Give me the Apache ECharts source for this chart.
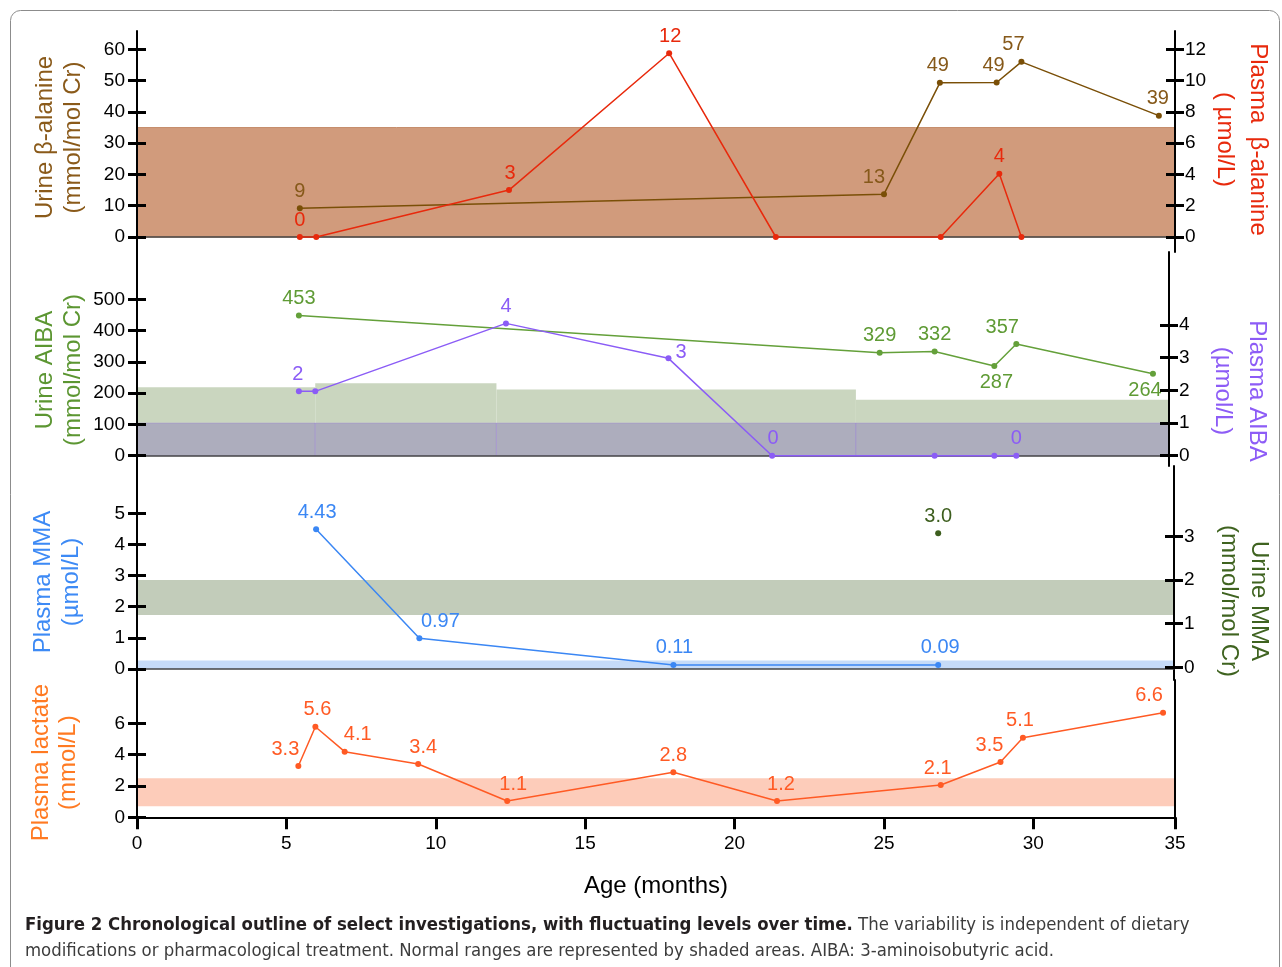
<!DOCTYPE html>
<html lang="en">
<head>
<meta charset="UTF-8">
<title>Chronological outline of select investigations</title>
<style>
  html, body { margin: 0; padding: 0; background: #fff; }
  #chart { width: 1282px; height: 967px; }
</style>
</head>
<body>
<div id="chart"></div>
<script src="https://cdn.jsdelivr.net/npm/echarts@6/dist/echarts.min.js"></script>
<script>
// ---- data (age in months) ----
// values are where the points sit; the *Text arrays are the numbers printed beside them
var ageUrineBAla = [5.45, 25.0, 26.87, 28.77, 29.6, 34.2];
var urineBAla = [9.2, 13.7, 49.3, 49.4, 56, 38.8];
var urineBAlaText = ['9', '13', '49', '49', '57', '39'];
var agePlasmaBAla = [5.45, 6.0, 12.45, 17.81, 21.38, 26.9, 28.86, 29.6];
var plasmaBAla = [0, 0, 3, 11.75, 0, 0, 4.05, 0];
var plasmaBAlaText = ['0', '0', '3', '12', '0', '0', '4', '0'];

var ageUrineAIBA = [5.45, 25.0, 26.85, 28.86, 29.6, 34.2];
var urineAIBA = [448, 329, 333, 287, 357, 262];
var urineAIBAText = ['453', '329', '332', '287', '357', '264'];
var agePlasmaAIBA = [5.45, 6.0, 12.42, 17.89, 21.38, 26.85, 28.86, 29.6];
var plasmaAIBA = [1.97, 1.97, 4.05, 2.98, 0, 0, 0, 0];
var plasmaAIBAText = ['2', '2', '4', '3', '0', '0', '0', '0'];

var agePlasmaMMA = [6.0, 9.46, 17.97, 26.84];
var plasmaMMA = [4.49, 0.99, 0.13, 0.13];
var plasmaMMAText = ['4.43', '0.97', '0.11', '0.09'];
var ageUrineMMA = [26.84];
var urineMMA = [3.07];
var urineMMAText = ['3.0'];

var ageLactate = [5.40, 5.97, 6.95, 9.41, 12.39, 17.95, 21.42, 26.9, 28.9, 29.65, 34.34];
var lactate = [3.27, 5.78, 4.19, 3.40, 1.04, 2.87, 1.04, 2.06, 3.53, 5.08, 6.67];
var lactateText = ['3.3', '5.6', '4.1', '3.4', '1.1', '2.8', '1.2', '2.1', '3.5', '5.1', '6.6'];

// normal ranges (shaded areas)
var rangeUrineBAla = [0, 35];
var rangeUrineAIBAFrom = [0, 6.0, 12.1, 24.2];
var rangeUrineAIBATo = [6.0, 12.1, 24.2, 35];
var rangeUrineAIBATop = [219, 232, 212, 179];
var rangePlasmaAIBA = [0, 1];
var rangeUrineMMA = [1.2, 2.0];
var rangePlasmaMMA = [0, 0.27];
var rangeLactate = [0.7, 2.5];

// tick labels
var ageTicks = [0, 5, 10, 15, 20, 25, 30, 35];
var ticksUrineBAla = [0, 10, 20, 30, 40, 50, 60];
var ticksPlasmaBAla = [0, 2, 4, 6, 8, 10, 12];
var ticksUrineAIBA = [0, 100, 200, 300, 400, 500];
var ticksPlasmaAIBA = [0, 1, 2, 3, 4];
var ticksPlasmaMMA = [0, 1, 2, 3, 4, 5];
var ticksUrineMMA = [0, 1, 2, 3];
var ticksLactate = [0, 2, 4, 6];

var FONT = '"Liberation Sans", Arial, Helvetica, sans-serif';
var CAPTION_FONT = '"Liberation Sans Narrow", "DejaVu Sans", sans-serif';
var xMax = 34.74;  // the last tick, labelled 35, sits on the right axis

var chart = echarts.init(document.getElementById('chart'));

// panels, stacked with no gap so the vertical axis lines run through
var grids = [
  {left: 137, right: 107, top: 31, height: 221},
  {left: 137, right: 107, top: 252, height: 214},
  {left: 137, right: 107, top: 466, height: 214},
  {left: 137, right: 107, top: 680, height: 137.3}
];

// name shift along the axis (pixels, + = down) done with padding on the rotated text
function namePad(side, d) {
  var p = Math.abs(d) * 2;
  if (side === 'left') return d > 0 ? [0, p, 0, 0] : [0, 0, 0, p];
  return d > 0 ? [0, 0, 0, p] : [0, p, 0, 0];
}

// y axis plus a twin with inner ticks, so the ticks cross the axis line
function yPair(o) {
  var main = {
    type: 'value', gridIndex: o.grid, position: o.side, min: o.min, max: o.max, z: 10,
    axisLine: {show: true, onZero: false, lineStyle: {color: '#000', width: 2}},
    axisTick: {show: !!o.ticks, inside: false, length: 9, customValues: o.ticks, lineStyle: {color: '#000', width: 3}},
    axisLabel: {show: !!o.ticks, customValues: o.ticks, margin: o.side === 'left' ? 12 : 10,
      color: '#000', fontSize: 19, fontFamily: FONT},
    splitLine: {show: false}
  };
  if (o.name) {
    main.name = o.name;
    main.nameLocation = 'middle';
    main.nameRotate = o.side === 'left' ? 90 : -90;
    main.nameGap = o.gap;
    main.nameMoveOverlap = false;
    main.nameTextStyle = {color: o.nameColor, fontSize: 24, fontFamily: FONT,
      lineHeight: o.lh, padding: namePad(o.side, o.shift)};
  }
  var twin = {
    type: 'value', gridIndex: o.grid, position: o.side, min: o.min, max: o.max, z: 10,
    axisLine: {show: false, onZero: false},
    axisTick: {show: !!o.ticks, inside: true, length: 9, customValues: o.ticks, lineStyle: {color: '#000', width: 3}},
    axisLabel: {show: false},
    splitLine: {show: false}
  };
  return [main, twin];
}

// min/max so that value 0 and one tick land on the measured pixel rows
function span(grid, zeroPx, unitPx) {
  var top = grid.top, bottom = grid.top + grid.height;
  return {min: -(bottom - zeroPx) / unitPx, max: (zeroPx - top) / unitPx};
}

var s0l = span(grids[0], 237, 3.128), s0r = span(grids[0], 237, 15.64);
var s1l = span(grids[1], 455.7, 0.3128), s1r = span(grids[1], 455.7, 32.67);
var s2l = span(grids[2], 669, 31.14), s2r = span(grids[2], 667.3, 43.67);
var s3l = span(grids[3], 817.3, 15.67);

var yAxes = [].concat(
  yPair({grid: 0, side: 'left', min: s0l.min, max: s0l.max, ticks: ticksUrineBAla,
    name: 'Urine β-alanine\n(mmol/mol Cr)', nameColor: '#8a5a1a', gap: 50, lh: 28, shift: -4}),
  yPair({grid: 0, side: 'right', min: s0r.min, max: s0r.max, ticks: ticksPlasmaBAla,
    name: 'Plasma  β-alanine\n( µmol/L)', nameColor: '#e8290c', gap: 33, lh: 33, shift: -2}),
  yPair({grid: 1, side: 'left', min: s1l.min, max: s1l.max, ticks: ticksUrineAIBA,
    name: 'Urine AIBA\n(mmol/mol Cr)', nameColor: '#5c9632', gap: 50, lh: 28, shift: 11}),
  yPair({grid: 1, side: 'right', min: s1r.min, max: s1r.max, ticks: ticksPlasmaAIBA,
    name: 'Plasma AIBA\n(µmol/L)', nameColor: '#8d5cf6', gap: 37, lh: 34, shift: 32}),
  yPair({grid: 2, side: 'left', min: s2l.min, max: s2l.max, ticks: ticksPlasmaMMA,
    name: 'Plasma MMA\n(µmol/L)', nameColor: '#3d8af5', gap: 52, lh: 28, shift: 9}),
  yPair({grid: 2, side: 'right', min: s2r.min, max: s2r.max, ticks: ticksUrineMMA,
    name: 'Urine MMA\n(mmol/mol Cr)', nameColor: '#3f6320', gap: 40, lh: 30, shift: 28}),
  yPair({grid: 3, side: 'left', min: 0, max: s3l.max, ticks: ticksLactate,
    name: 'Plasma lactate\n(mmol/L)', nameColor: '#ff7a22', gap: 55, lh: 27, shift: 14}),
  [yPair({grid: 3, side: 'right', min: 0, max: s3l.max, ticks: null})[0]]
);

// x axes: a zero baseline for the upper panels, the real age axis at the bottom
function baseX(grid, yIdx) {
  return {
    type: 'value', gridIndex: grid, min: 0, max: xMax, z: 10,
    axisLine: {show: true, onZero: true, onZeroAxisIndex: yIdx, lineStyle: {color: '#444', width: 1.5}},
    axisTick: {show: false}, axisLabel: {show: false}, splitLine: {show: false}
  };
}
var xTickVals = ageTicks.map(function (v) { return Math.min(v, xMax); });
var xAxes = [
  baseX(0, 0), baseX(1, 4), baseX(2, 8),
  {
    type: 'value', gridIndex: 3, min: 0, max: xMax, z: 10,
    axisLine: {show: true, lineStyle: {color: '#000', width: 2}},
    axisTick: {show: true, length: 11, customValues: xTickVals, lineStyle: {color: '#000', width: 3}},
    axisLabel: {customValues: xTickVals, margin: 17, color: '#000', fontSize: 19, fontFamily: FONT,
      formatter: function (v) { return String(Math.round(v)); }},
    splitLine: {show: false},
    name: 'Age (months)', nameLocation: 'middle', nameGap: 57,
    nameTextStyle: {color: '#000', fontSize: 24, fontFamily: FONT}
  },
  {
    type: 'value', gridIndex: 3, min: 0, max: xMax, z: 10,
    axisLine: {show: false},
    axisTick: {show: true, inside: true, length: 12, customValues: xTickVals, lineStyle: {color: '#000', width: 3}},
    axisLabel: {show: false}, splitLine: {show: false}
  }
];

// label placement per point: [position, dx, dy] or null for no label
var labUrineBAla = [['top', 0, 0], ['top', -10, 0], ['top', -2, 0], ['top', -3, 0], ['top', -8, 0], ['top', -1, 0]];
var labPlasmaBAla = [['top', 0, 0], null, ['top', 1, 0], ['top', 1, 0], null, null, ['top', 0, 0], null];
var labUrineAIBA = [['top', 0, 0], ['top', 0, 0], ['top', 0, 0], ['bottom', 2, 0], ['top', -14, 0], ['bottom', -8, 0]];
var labPlasmaAIBA = [['top', -1, 0], null, ['top', 0, 0], ['right', 0, -6], ['top', 1, 0], null, null, ['top', 0, 0]];
var labPlasmaMMA = [['top', 1, 0], ['top', 21, 0], ['top', 1, 0], ['top', 2, 0]];
var labUrineMMA = [['top', 0, 0]];
var labLactate = [['top', -13, 0], ['top', 2, 0], ['top', 13, 0], ['top', 5, 0], ['top', 6, 0], ['top', 0, 0],
  ['top', 4, 0], ['top', -3, 0], ['top', -11, 0], ['top', -3, 0], ['top', -14, 0]];

function pts(xs, ys, texts, labs, color) {
  return xs.map(function (x, i) {
    var l = labs[i];
    var item = {value: [x, ys[i]]};
    if (l) {
      item.label = {show: true, position: l[0], offset: [l[1], l[2]], distance: 4,
        color: color, fontSize: 20, fontFamily: FONT, formatter: texts[i]};
    }
    return item;
  });
}

function lineSeries(name, xIdx, yIdx, xs, ys, texts, labs, color, labColor) {
  return {
    name: name, type: 'line', xAxisIndex: xIdx, yAxisIndex: yIdx, z: 12,
    data: pts(xs, ys, texts, labs, labColor || color),
    symbol: 'circle', symbolSize: 6, showAllSymbol: true,
    lineStyle: {color: color, width: 1.5}, itemStyle: {color: color},
    label: {show: false}, emphasis: {disabled: true}, animation: false
  };
}

// shaded normal ranges live in empty series drawn under the axes and lines
function band(xIdx, yIdx, areas, color, border) {
  return {
    type: 'line', xAxisIndex: xIdx, yAxisIndex: yIdx, data: [], z: 1, silent: true, animation: false,
    markArea: {silent: true, z: 1, data: areas,
      itemStyle: {color: color, borderColor: border || color, borderWidth: border ? 1 : 0}}
  };
}

var aibaAreas = rangeUrineAIBAFrom.map(function (a, i) {
  return [{xAxis: a, yAxis: 0}, {xAxis: Math.min(rangeUrineAIBATo[i], xMax), yAxis: rangeUrineAIBATop[i]}];
});
var aibaPlasmaAreas = rangeUrineAIBAFrom.map(function (a, i) {
  return [{xAxis: a, yAxis: rangePlasmaAIBA[0]}, {xAxis: Math.min(rangeUrineAIBATo[i], xMax), yAxis: rangePlasmaAIBA[1]}];
});

var series = [
  band(0, 0, [[{yAxis: rangeUrineBAla[0]}, {yAxis: rangeUrineBAla[1]}]], '#d19b7c', '#c68e6d'),
  band(1, 4, aibaAreas, '#cad6bf'),
  band(1, 6, aibaPlasmaAreas, '#adadbd', 'rgba(141,92,246,0.22)'),
  band(2, 10, [[{yAxis: rangeUrineMMA[0]}, {yAxis: rangeUrineMMA[1]}]], '#c2ccba'),
  band(2, 8, [[{yAxis: rangePlasmaMMA[0]}, {yAxis: rangePlasmaMMA[1]}]], '#c6dbf8'),
  band(3, 12, [[{yAxis: rangeLactate[0]}, {yAxis: rangeLactate[1]}]], '#fdccba'),

  lineSeries('Urine β-alanine', 0, 0, ageUrineBAla, urineBAla, urineBAlaText, labUrineBAla, '#7a4f07', '#86591a'),
  lineSeries('Plasma β-alanine', 0, 2, agePlasmaBAla, plasmaBAla, plasmaBAlaText, labPlasmaBAla, '#e8290c'),
  lineSeries('Urine AIBA', 1, 4, ageUrineAIBA, urineAIBA, urineAIBAText, labUrineAIBA, '#64a03a', '#5f9b35'),
  lineSeries('Plasma AIBA', 1, 6, agePlasmaAIBA, plasmaAIBA, plasmaAIBAText, labPlasmaAIBA, '#8b5cf6'),
  lineSeries('Plasma MMA', 2, 8, agePlasmaMMA, plasmaMMA, plasmaMMAText, labPlasmaMMA, '#3b87f4'),
  lineSeries('Urine MMA', 2, 10, ageUrineMMA, urineMMA, urineMMAText, labUrineMMA, '#3d5e1e'),
  lineSeries('Plasma lactate', 3, 12, ageLactate, lactate, lactateText, labLactate, '#ff5a24')
];

var option = {
  backgroundColor: '#fff',
  animation: false,
  title: {
    left: 25, top: 912, padding: 0,
    text: '{b|Figure 2 Chronological outline of select investigations, with fluctuating levels over time.}' +
      '{r| The variability is independent of dietary}\n' +
      '{r|modifications or pharmacological treatment. Normal ranges are represented by shaded areas. AIBA: 3-aminoisobutyric acid.}',
    textStyle: {
      fontWeight: 'normal',
      rich: {
        // "condensed" rides along in the font shorthand
        b: {fontWeight: 'bold condensed', fontSize: 18.4, lineHeight: 26, color: '#231f20', fontFamily: CAPTION_FONT},
        r: {fontWeight: 'normal condensed', fontSize: 18.4, lineHeight: 26, color: '#3c3c3c', fontFamily: CAPTION_FONT}
      }
    }
  },
  graphic: [{
    type: 'rect', silent: true, z: -1,
    shape: {x: 10.5, y: 10.5, width: 1269, height: 1000, r: 10},
    style: {fill: 'none', stroke: '#8c8c8c', lineWidth: 1}
  }],
  grid: grids,
  xAxis: xAxes,
  yAxis: yAxes,
  series: series
};

chart.setOption(option);
</script>
</body>
</html>
